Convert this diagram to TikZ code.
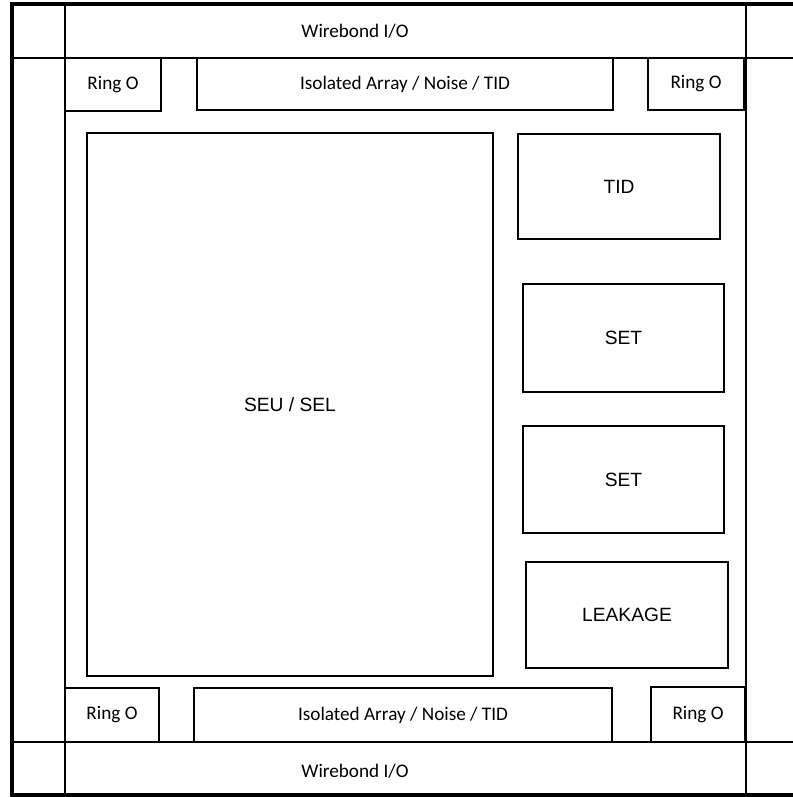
\documentclass[tikz,border=0pt]{standalone}
\usepackage{fontspec}
\setmainfont{Carlito}
\newfontfamily\arialf{Liberation Sans}
\usetikzlibrary{fit}
\tikzset{
  px/.style={x=0.75pt,y=-0.75pt},
  cellbox/.style={draw=black,line width=1.5pt,inner sep=0pt,outer sep=0pt},
  lbl/.style={inner sep=0pt,font=\fontsize{14.4}{16}\selectfont},
  arlbl/.style={inner sep=0pt,font=\arialf\fontsize{14.4}{16}\selectfont},
  gridline/.style={line width=1.5pt},
  frameline/.style={line width=3.5pt}
}
\begin{document}
\begin{tikzpicture}[px]
\useasboundingbox[fill=white] (0,0) rectangle (793,797);
% frame and grid
\draw[gridline] (65,4) -- (65,795);
\draw[gridline] (746,4) -- (746,795);
\draw[gridline] (12,58) -- (793,58);
\draw[gridline] (12,742) -- (793,742);
\draw[frameline] (793,4) -- (12,4) -- (12,795) -- (793,795);
% labels of the wirebond rows
\node[lbl] (wtop) at (355,31) {Wirebond I/O};
\node[lbl] (wbot) at (355,771) {Wirebond I/O};
% top row
\node[cellbox,fit={(65,58)(161,111)}] (r1) {};
\node[cellbox,fit={(197,58)(613,110)}] (iatop) {};
\node[cellbox,fit={(648,58)(744,110)}] (r2) {};
% bottom row
\node[cellbox,fit={(65,688)(159,742)}] (r3) {};
\node[cellbox,fit={(194,688)(612,742)}] (iabot) {};
\node[cellbox,fit={(651,687)(745,742)}] (r4) {};
% core blocks
\node[cellbox,fit={(87,133)(493,676)}] (seu) {};
\node[cellbox,fit={(518,134)(720,239)}] (tid) {};
\node[cellbox,fit={(523,284)(724,392)}] (set1) {};
\node[cellbox,fit={(523,426)(724,533)}] (set2) {};
\node[cellbox,fit={(526,562)(728,668)}] (leak) {};
% texts
\node[lbl] (t1) at (r1.center) {Ring O};
\node[lbl] (t2) at (iatop.center) {Isolated Array / Noise / TID};
\node[lbl] (t3) at (r2.center) {Ring O};
\node[lbl] (t4) at (r3.center) {Ring O};
\node[lbl] (t5) at (iabot.center) {Isolated Array / Noise / TID};
\node[lbl] (t6) at (r4.center) {Ring O};
\node[arlbl] (t7) at (seu.center) {SEU / SEL};
\node[arlbl] (t8) at (tid.center) {TID};
\node[arlbl] (t9) at (set1.center) {SET};
\node[arlbl] (t10) at (set2.center) {SET};
\node[arlbl] (t11) at (leak.center) {LEAKAGE};
\end{tikzpicture}
\end{document}
